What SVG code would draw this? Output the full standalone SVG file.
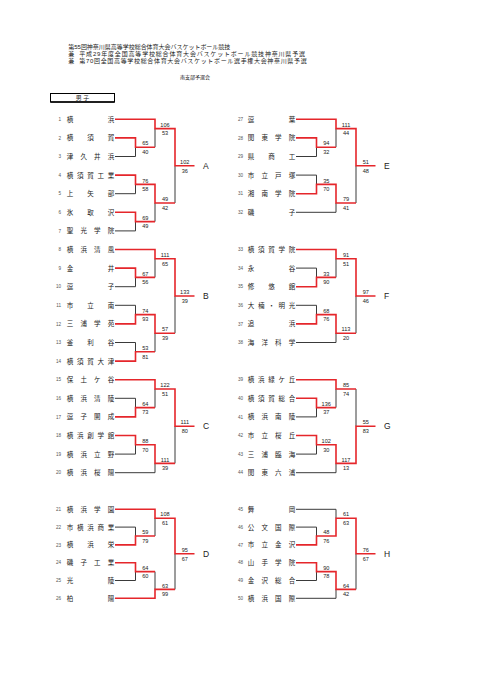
<svg xmlns="http://www.w3.org/2000/svg" width="481" height="680" viewBox="0 0 481 680">
<style>
text{font-family:"Liberation Sans","Noto Sans CJK JP",sans-serif;fill:#222}
.h{font-family:"Liberation Sans","Noto Sans CJK JP",sans-serif;font-size:6px}
.n{font-family:"Noto Sans CJK JP",sans-serif;font-size:6.5px;text-anchor:middle}
.no{font-size:4.6px;text-anchor:end;fill:#555}
.s{font-size:5.6px;text-anchor:middle}
.l{font-size:8.5px}
.k{fill:none;stroke:#3a3a3a;stroke-width:1}
.r{fill:none;stroke:#e5262b;stroke-width:1.6;stroke-linejoin:miter}
</style>
<rect width="481" height="680" fill="#fff"/>
<g id="header">
<text class="h" x="68.3" y="49.3" textLength="162" lengthAdjust="spacing">第55回神奈川県高等学校総合体育大会バスケットボール競技</text>
<text class="h" x="68.3" y="56.3">兼</text>
<text class="h" x="79.3" y="56.3" textLength="225.7" lengthAdjust="spacing">平成29年度全国高等学校総合体育大会バスケットボール競技神奈川県予選</text>
<text class="h" x="68.3" y="63.3">兼</text>
<text class="h" x="79.3" y="63.3" textLength="227.4" lengthAdjust="spacing">第70回全国高等学校総合体育大会バスケットボール選手権大会神奈川県予選</text>
<text class="h" x="180" y="79" style="font-size:5px">南支部予選会</text>
</g>
<g id="section">
<rect x="50.5" y="93.5" width="64" height="8.5" fill="none" stroke="#000" stroke-width="1"/>
<line x1="50.5" y1="102" x2="114.5" y2="102" stroke="#000" stroke-width="1.5"/>
<text class="h" x="82.5" y="100.4" text-anchor="middle">男 子</text>
</g>
<g id="connectors">
<path class="k" d="M115 156.5H135.5M115 193.7H135.5M115 230.9H135.5M135.5 147.2V156.5M155 128.6V147.2M135.5 184.4V193.7M135.5 221.6V230.9M155 203V221.6M175 165.8V203"/>
<path class="k" d="M115 286.7H135.5M115 305.3H135.5M115 342.5H135.5M135.5 277.4V286.7M155 258.8V277.4M135.5 305.3V314.6M135.5 342.5V351.8M155 333.2V351.8M175 296V333.2"/>
<path class="k" d="M115 398.3H135.5M115 454.1H135.5M115 472.7H155M135.5 398.3V407.6M155 389V407.6M135.5 444.8V454.1M155 463.4V472.7M175 426.2V463.4"/>
<path class="k" d="M115 527.1H135.5M115 580.5H135.5M135.5 527.1V536M155 518.2V536M135.5 571.6V580.5M155 571.6V589.4M175 553.8V589.4"/>
<path class="k" d="M296 156.5H316.5M296 175.1H316.5M296 212.3H336M316.5 147.2V156.5M336 128.6V147.2M316.5 175.1V184.4M336 203V212.3M356 165.8V203"/>
<path class="k" d="M296 268.1H316.5M296 305.3H316.5M296 342.5H336M316.5 268.1V277.4M336 258.8V277.4M316.5 305.3V314.6M336 333.2V342.5M356 296V333.2"/>
<path class="k" d="M296 416.9H316.5M296 454.1H316.5M296 472.7H336M316.5 407.6V416.9M336 389V407.6M316.5 444.8V454.1M336 463.4V472.7M356 389V426.2"/>
<path class="k" d="M296 509.3H336M296 527.1H316.5M296 580.5H316.5M296 598.3H336M316.5 527.1V536M336 509.3V518.2M316.5 571.6V580.5M336 589.4V598.3M356 553.8V589.4"/>
<path class="r" d="M115 119.3H155V128.6H175V165.8H194.5M115 137.9H135.5V147.2H155M115 175.1H135.5V184.4H155V203H175M115 212.3H135.5V221.6H155"/>
<path class="r" d="M115 249.5H155V258.8H175V296H194.5M115 268.1H135.5V277.4H155M115 323.9H135.5V314.6H155V333.2H175M115 361.1H135.5V351.8H155"/>
<path class="r" d="M115 379.7H155V389H175V426.2H194.5M115 416.9H135.5V407.6H155M115 435.5H135.5V444.8H155V463.4H175"/>
<path class="r" d="M115 509.3H155V518.2H175V553.8H194.5M115 544.9H135.5V536H155M115 562.7H135.5V571.6H155M115 598.3H155V589.4H175"/>
<path class="r" d="M296 119.3H336V128.6H356V165.8H375.5M296 137.9H316.5V147.2H336M296 193.7H316.5V184.4H336V203H356"/>
<path class="r" d="M296 249.5H336V258.8H356V296H375.5M296 286.7H316.5V277.4H336M296 323.9H316.5V314.6H336V333.2H356"/>
<path class="r" d="M296 379.7H336V389H356M296 398.3H316.5V407.6H336M296 435.5H316.5V444.8H336V463.4H356V426.2H375.5"/>
<path class="r" d="M296 544.9H316.5V536H336V518.2H356V553.8H375.5M296 562.7H316.5V571.6H336V589.4H356"/>
</g>
<g id="scores">
<text class="s" x="145.25" y="145.4">65</text><text class="s" x="145.25" y="154">40</text>
<text class="s" x="165" y="126.8">106</text><text class="s" x="165" y="135.4">53</text>
<text class="s" x="145.25" y="182.6">76</text><text class="s" x="145.25" y="191.2">58</text>
<text class="s" x="145.25" y="219.8">69</text><text class="s" x="145.25" y="228.4">49</text>
<text class="s" x="165" y="201.2">49</text><text class="s" x="165" y="209.8">42</text>
<text class="s" x="184.75" y="164">102</text><text class="s" x="184.75" y="172.6">36</text>

<text class="s" x="145.25" y="275.6">67</text><text class="s" x="145.25" y="284.2">56</text>
<text class="s" x="165" y="257">111</text><text class="s" x="165" y="265.6">65</text>
<text class="s" x="145.25" y="312.8">74</text><text class="s" x="145.25" y="321.4">93</text>
<text class="s" x="145.25" y="350">53</text><text class="s" x="145.25" y="358.6">81</text>
<text class="s" x="165" y="331.4">57</text><text class="s" x="165" y="340">39</text>
<text class="s" x="184.75" y="294.2">133</text><text class="s" x="184.75" y="302.8">39</text>

<text class="s" x="145.25" y="405.8">64</text><text class="s" x="145.25" y="414.4">73</text>
<text class="s" x="165" y="387.2">122</text><text class="s" x="165" y="395.8">51</text>
<text class="s" x="145.25" y="443">88</text><text class="s" x="145.25" y="451.6">70</text>
<text class="s" x="165" y="461.6">111</text><text class="s" x="165" y="470.2">39</text>
<text class="s" x="184.75" y="424.4">111</text><text class="s" x="184.75" y="433">80</text>

<text class="s" x="145.25" y="534.2">59</text><text class="s" x="145.25" y="542.8">79</text>
<text class="s" x="165" y="516.4">108</text><text class="s" x="165" y="525">61</text>
<text class="s" x="145.25" y="569.8">64</text><text class="s" x="145.25" y="578.4">60</text>
<text class="s" x="165" y="587.6">63</text><text class="s" x="165" y="596.2">99</text>
<text class="s" x="184.75" y="552">95</text><text class="s" x="184.75" y="560.6">67</text>

<text class="s" x="326.25" y="145.4">94</text><text class="s" x="326.25" y="154">32</text>
<text class="s" x="346" y="126.8">111</text><text class="s" x="346" y="135.4">44</text>
<text class="s" x="326.25" y="182.6">35</text><text class="s" x="326.25" y="191.2">70</text>
<text class="s" x="346" y="201.2">79</text><text class="s" x="346" y="209.8">41</text>
<text class="s" x="365.75" y="164">51</text><text class="s" x="365.75" y="172.6">48</text>

<text class="s" x="326.25" y="275.6">33</text><text class="s" x="326.25" y="284.2">90</text>
<text class="s" x="346" y="257">91</text><text class="s" x="346" y="265.6">51</text>
<text class="s" x="326.25" y="312.8">68</text><text class="s" x="326.25" y="321.4">76</text>
<text class="s" x="346" y="331.4">113</text><text class="s" x="346" y="340">20</text>
<text class="s" x="365.75" y="294.2">97</text><text class="s" x="365.75" y="302.8">46</text>

<text class="s" x="326.25" y="405.8">136</text><text class="s" x="326.25" y="414.4">37</text>
<text class="s" x="346" y="387.2">85</text><text class="s" x="346" y="395.8">74</text>
<text class="s" x="326.25" y="443">102</text><text class="s" x="326.25" y="451.6">30</text>
<text class="s" x="346" y="461.6">117</text><text class="s" x="346" y="470.2">13</text>
<text class="s" x="365.75" y="424.4">55</text><text class="s" x="365.75" y="433">83</text>

<text class="s" x="326.25" y="534.2">48</text><text class="s" x="326.25" y="542.8">76</text>
<text class="s" x="346" y="516.4">61</text><text class="s" x="346" y="525">63</text>
<text class="s" x="326.25" y="569.8">90</text><text class="s" x="326.25" y="578.4">78</text>
<text class="s" x="346" y="587.6">64</text><text class="s" x="346" y="596.2">42</text>
<text class="s" x="365.75" y="552">76</text><text class="s" x="365.75" y="560.6">67</text>
</g>
<g id="blockA"><text class="l" x="203" y="168.9">A</text></g>
<g id="blockB"><text class="l" x="203" y="299.1">B</text></g>
<g id="blockC"><text class="l" x="203" y="429.3">C</text></g>
<g id="blockD"><text class="l" x="203" y="556.9">D</text></g>
<g id="blockE"><text class="l" x="384" y="168.9">E</text></g>
<g id="blockF"><text class="l" x="384" y="299.1">F</text></g>
<g id="blockG"><text class="l" x="384" y="429.3">G</text></g>
<g id="blockH"><text class="l" x="384" y="556.9">H</text></g>

<g id="t1"><text class="no" x="61" y="120.9">1</text><text class="n" x="70 111" y="121.8">横浜</text></g>
<g id="t2"><text class="no" x="61" y="139.5">2</text><text class="n" x="70 90.5 111" y="140.4">横須賀</text></g>
<g id="t3"><text class="no" x="61" y="158.1">3</text><text class="n" x="70 83.67 97.33 111" y="159">津久井浜</text></g>
<g id="t4"><text class="no" x="61" y="176.7">4</text><text class="n" x="70 80.25 90.5 100.75 111" y="177.6">横須賀工業</text></g>
<g id="t5"><text class="no" x="61" y="195.3">5</text><text class="n" x="70 90.5 111" y="196.2">上矢部</text></g>
<g id="t6"><text class="no" x="61" y="213.9">6</text><text class="n" x="70 90.5 111" y="214.8">氷取沢</text></g>
<g id="t7"><text class="no" x="61" y="232.5">7</text><text class="n" x="70 83.67 97.33 111" y="233.4">聖光学院</text></g>
<g id="t8"><text class="no" x="61" y="251.1">8</text><text class="n" x="70 83.67 97.33 111" y="252">横浜清風</text></g>
<g id="t9"><text class="no" x="61" y="269.7">9</text><text class="n" x="70 111" y="270.6">金井</text></g>
<g id="t10"><text class="no" x="61" y="288.3">10</text><text class="n" x="70 111" y="289.2">逗子</text></g>
<g id="t11"><text class="no" x="61" y="306.9">11</text><text class="n" x="70 90.5 111" y="307.8">市立南</text></g>
<g id="t12"><text class="no" x="61" y="325.5">12</text><text class="n" x="70 83.67 97.33 111" y="326.4">三浦学苑</text></g>
<g id="t13"><text class="no" x="61" y="344.1">13</text><text class="n" x="70 90.5 111" y="345">釜利谷</text></g>
<g id="t14"><text class="no" x="61" y="362.7">14</text><text class="n" x="70 80.25 90.5 100.75 111" y="363.6">横須賀大津</text></g>
<g id="t15"><text class="no" x="61" y="381.3">15</text><text class="n" x="70 83.67 97.33 111" y="382.2">保土ケ谷</text></g>
<g id="t16"><text class="no" x="61" y="399.9">16</text><text class="n" x="70 83.67 97.33 111" y="400.8">横浜清陵</text></g>
<g id="t17"><text class="no" x="61" y="418.5">17</text><text class="n" x="70 83.67 97.33 111" y="419.4">逗子開成</text></g>
<g id="t18"><text class="no" x="61" y="437.1">18</text><text class="n" x="70 80.25 90.5 100.75 111" y="438">横浜創学館</text></g>
<g id="t19"><text class="no" x="61" y="455.7">19</text><text class="n" x="70 83.67 97.33 111" y="456.6">横浜立野</text></g>
<g id="t20"><text class="no" x="61" y="474.3">20</text><text class="n" x="70 83.67 97.33 111" y="475.2">横浜桜陽</text></g>
<g id="t21"><text class="no" x="61" y="510.9">21</text><text class="n" x="70 83.67 97.33 111" y="511.8">横浜学園</text></g>
<g id="t22"><text class="no" x="61" y="528.7">22</text><text class="n" x="70 80.25 90.5 100.75 111" y="529.6">市横浜商業</text></g>
<g id="t23"><text class="no" x="61" y="546.5">23</text><text class="n" x="70 90.5 111" y="547.4">横浜栄</text></g>
<g id="t24"><text class="no" x="61" y="564.3">24</text><text class="n" x="70 83.67 97.33 111" y="565.2">磯子工業</text></g>
<g id="t25"><text class="no" x="61" y="582.1">25</text><text class="n" x="70 111" y="583">光陵</text></g>
<g id="t26"><text class="no" x="61" y="599.9">26</text><text class="n" x="70 111" y="600.8">柏陽</text></g>

<g id="t27"><text class="no" x="243" y="120.9">27</text><text class="n" x="251 292" y="121.8">逗葉</text></g>
<g id="t28"><text class="no" x="243" y="139.5">28</text><text class="n" x="251 264.67 278.33 292" y="140.4">関東学院</text></g>
<g id="t29"><text class="no" x="243" y="158.1">29</text><text class="n" x="251 271.5 292" y="159">県商工</text></g>
<g id="t30"><text class="no" x="243" y="176.7">30</text><text class="n" x="251 264.67 278.33 292" y="177.6">市立戸塚</text></g>
<g id="t31"><text class="no" x="243" y="195.3">31</text><text class="n" x="251 264.67 278.33 292" y="196.2">湘南学院</text></g>
<g id="t32"><text class="no" x="243" y="213.9">32</text><text class="n" x="251 292" y="214.8">磯子</text></g>
<g id="t33"><text class="no" x="243" y="251.1">33</text><text class="n" x="251 261.25 271.5 281.75 292" y="252">横須賀学院</text></g>
<g id="t34"><text class="no" x="243" y="269.7">34</text><text class="n" x="251 292" y="270.6">永谷</text></g>
<g id="t35"><text class="no" x="243" y="288.3">35</text><text class="n" x="251 271.5 292" y="289.2">修悠館</text></g>
<g id="t36"><text class="no" x="243" y="306.9">36</text><text class="n" x="251 261.25 271.5 281.75 292" y="307.8">大楠・明光</text></g>
<g id="t37"><text class="no" x="243" y="325.5">37</text><text class="n" x="251 292" y="326.4">追浜</text></g>
<g id="t38"><text class="no" x="243" y="344.1">38</text><text class="n" x="251 264.67 278.33 292" y="345">海洋科学</text></g>
<g id="t39"><text class="no" x="243" y="381.3">39</text><text class="n" x="251 261.25 271.5 281.75 292" y="382.2">横浜緑ケ丘</text></g>
<g id="t40"><text class="no" x="243" y="399.9">40</text><text class="n" x="251 261.25 271.5 281.75 292" y="400.8">横須賀総合</text></g>
<g id="t41"><text class="no" x="243" y="418.5">41</text><text class="n" x="251 264.67 278.33 292" y="419.4">横浜南陵</text></g>
<g id="t42"><text class="no" x="243" y="437.1">42</text><text class="n" x="251 264.67 278.33 292" y="438">市立桜丘</text></g>
<g id="t43"><text class="no" x="243" y="455.7">43</text><text class="n" x="251 264.67 278.33 292" y="456.6">三浦臨海</text></g>
<g id="t44"><text class="no" x="243" y="474.3">44</text><text class="n" x="251 264.67 278.33 292" y="475.2">関東六浦</text></g>
<g id="t45"><text class="no" x="243" y="510.9">45</text><text class="n" x="251 292" y="511.8">舞岡</text></g>
<g id="t46"><text class="no" x="243" y="528.7">46</text><text class="n" x="251 264.67 278.33 292" y="529.6">公文国際</text></g>
<g id="t47"><text class="no" x="243" y="546.5">47</text><text class="n" x="251 264.67 278.33 292" y="547.4">市立金沢</text></g>
<g id="t48"><text class="no" x="243" y="564.3">48</text><text class="n" x="251 264.67 278.33 292" y="565.2">山手学院</text></g>
<g id="t49"><text class="no" x="243" y="582.1">49</text><text class="n" x="251 264.67 278.33 292" y="583">金沢総合</text></g>
<g id="t50"><text class="no" x="243" y="599.9">50</text><text class="n" x="251 264.67 278.33 292" y="600.8">横浜国際</text></g>
</svg>
